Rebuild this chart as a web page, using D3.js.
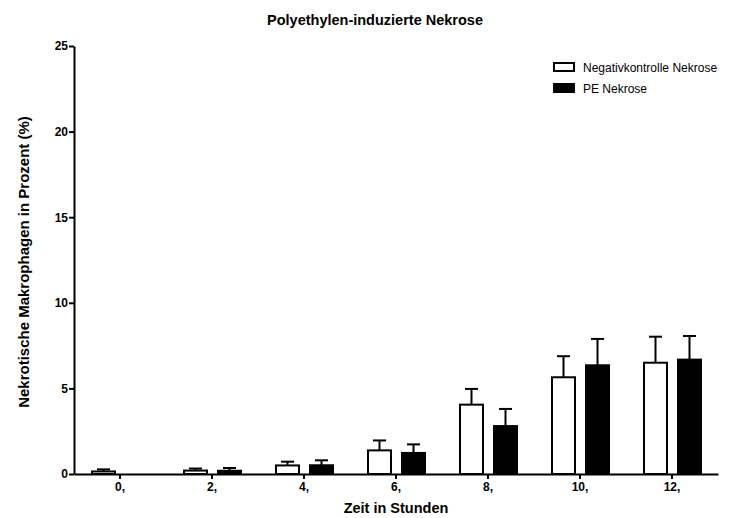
<!DOCTYPE html>
<html>
<head>
<meta charset="utf-8">
<script src="https://cdn.jsdelivr.net/npm/d3@7"></script>
<style>
  body { margin: 0; background: #fff; }
  svg { display: block; font-family: "Liberation Sans", Arial, sans-serif; }
</style>
</head>
<body>
<svg id="chart" width="745" height="518"></svg>
<script>
// Time points (hours) and mean / error values per series
const categories = ["0,", "2,", "4,", "6,", "8,", "10,", "12,"];
const negMean = [0.15, 0.2, 0.5, 1.38, 4.05, 5.65, 6.5];
const negErr  = [0.12, 0.12, 0.22, 0.58, 0.92, 1.23, 1.52];
const peMean  = [0, 0.19, 0.51, 1.23, 2.8, 6.35, 6.68];
const peErr   = [0, 0.16, 0.29, 0.5, 1.0, 1.54, 1.38];
const yTicks  = [0, 5, 10, 15, 20, 25];
const seriesNames = ["Negativkontrolle Nekrose", "PE Nekrose"];

const svg = d3.select("#chart");
const margin = { left: 74, right: 27, top: 46, bottom: 44 };
const W = 745, H = 518;

const x = d3.scaleBand().domain(categories).range([margin.left, W - margin.right]);
const y = d3.scaleLinear().domain([0, 25]).range([H - margin.bottom, margin.top]);

const barW = 23;
const offsets = [-28, 6];
const series = [
  { name: seriesNames[0], mean: negMean, err: negErr, fill: "#fff" },
  { name: seriesNames[1], mean: peMean, err: peErr, fill: "#000" }
];

series.forEach((s, si) => {
  const g = svg.append("g");
  const rows = categories.map((c, i) => ({ c, m: s.mean[i], e: s.err[i] }))
    .filter(d => d.m > 0);
  const cx = d => x(d.c) + x.bandwidth() / 2 + offsets[si] + barW / 2;
  // upper error bars with caps
  g.selectAll("line.err").data(rows).join("line").attr("class", "err")
    .attr("x1", cx).attr("x2", cx)
    .attr("y1", d => y(d.m)).attr("y2", d => y(d.m + d.e))
    .attr("stroke", "#000").attr("stroke-width", 2);
  g.selectAll("line.cap").data(rows).join("line").attr("class", "cap")
    .attr("x1", d => cx(d) - 6.5).attr("x2", d => cx(d) + 6.5)
    .attr("y1", d => y(d.m + d.e)).attr("y2", d => y(d.m + d.e))
    .attr("stroke", "#000").attr("stroke-width", 2);
  g.selectAll("rect").data(rows).join("rect")
    .attr("x", d => x(d.c) + x.bandwidth() / 2 + offsets[si])
    .attr("width", barW)
    .attr("y", d => y(d.m))
    .attr("height", d => y(0) - y(d.m))
    .attr("fill", s.fill)
    .attr("stroke", "#000").attr("stroke-width", 2);
});

// Axes
const yAxis = d3.axisLeft(y).tickValues(yTicks).tickSize(5).tickPadding(1).tickSizeOuter(0);
const gy = svg.append("g").attr("transform", `translate(${margin.left},0)`).call(yAxis);
const xAxis = d3.axisBottom(x).tickSize(5).tickPadding(3).tickSizeOuter(0);
const gx = svg.append("g").attr("transform", `translate(0,${H - margin.bottom})`).call(xAxis);
[gx, gy].forEach(g => {
  g.select(".domain").attr("stroke", "#000").attr("stroke-width", 2);
  g.selectAll(".tick line").attr("stroke", "#000").attr("stroke-width", 2);
  g.selectAll(".tick text").attr("fill", "#000")
    .style("font-family", "'Liberation Sans', Arial, sans-serif")
    .style("font-size", "12px").style("font-weight", "bold");
});

// Titles
svg.append("text").attr("x", 375).attr("y", 25).attr("text-anchor", "middle")
  .style("font-size", "14.5px").style("font-weight", "bold")
  .text("Polyethylen-induzierte Nekrose");
svg.append("text").attr("x", (margin.left + W - margin.right) / 2).attr("y", 513)
  .attr("text-anchor", "middle").style("font-size", "14.5px").style("font-weight", "bold")
  .text("Zeit in Stunden");
svg.append("text").attr("transform", `translate(29,${(margin.top + H - margin.bottom) / 2 + 2}) rotate(-90)`)
  .attr("text-anchor", "middle").style("font-size", "15px").style("font-weight", "bold")
  .text("Nekrotische Makrophagen in Prozent (%)");

// Legend
const leg = svg.append("g").attr("transform", "translate(554,63)");
series.forEach((s, i) => {
  leg.append("rect").attr("x", 0).attr("y", i * 21).attr("width", 20).attr("height", 8)
    .attr("fill", s.fill).attr("stroke", "#000").attr("stroke-width", 2);
  leg.append("text").attr("x", 29).attr("y", i * 21 + 8.5)
    .style("font-size", "12px").text(s.name);
});
</script>
</body>
</html>
